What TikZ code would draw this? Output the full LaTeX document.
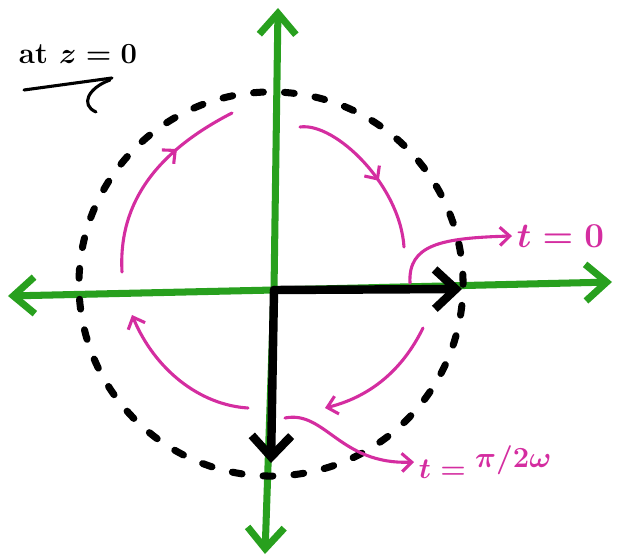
\documentclass[tikz,border=0pt]{standalone}
\usetikzlibrary{arrows.meta,decorations.markings}
\definecolor{mkgreen}{RGB}{40,160,30}
\definecolor{mkpink}{RGB}{212,45,160}
\newcommand{\penfont}{\fontsize{24}{28}\selectfont\mathversion{bold}}
\begin{document}
\begin{tikzpicture}[
    x=0.025cm, y=-0.025cm,
    axis/.style={mkgreen, line width=5pt, -{Straight Barb[length=15pt,width=26pt]}, line cap=round},
    vec/.style={black, line width=6pt, -{Straight Barb[length=15pt,width=28pt]}, line cap=round},
    orbit/.style={black, line width=5pt, dash pattern=on 7pt off 15pt, line cap=round},
    spin/.style={mkpink, line width=2.2pt, line cap=round},
    tipend/.style={-{Straight Barb[length=7pt,width=13pt]}},
    midarrow/.style={postaction={decorate}, decoration={markings, mark=at position #1 with {\arrow{Straight Barb[length=7pt,width=13pt]}}}},
    lbl/.style={mkpink, font=\penfont, anchor=west}
]
    \useasboundingbox (0,0) rectangle (617,558);

    % axes and origin
    \coordinate (O) at (274,290);
    \coordinate (xl) at (8,296);
    \coordinate (xr) at (612,282);
    \coordinate (yt) at (278,8);
    \coordinate (yb) at (265,554);
    \draw [axis] (O) -- (xr);
    \draw [axis] (O) -- (xl);
    \draw [axis] (O) -- (yt);
    \draw [axis] (O) -- (yb);

    % dashed circle
    \draw [orbit] (271,284) circle [radius=4.8cm];

    % field vectors
    \coordinate (vx) at (462,289);
    \coordinate (vy) at (271,463);
    \draw [vec] (O) -- (vx);
    \draw [vec] (O) -- (vy);

    % rotation arrows
    \draw [spin, midarrow=0.68] (122,272) .. controls (118,200) and (160,150) .. (232,113);
    \draw [spin, midarrow=0.58] (300,127) .. controls (335,122) and (400,185) .. (404,247);
    \draw [spin, tipend] (423,328) .. controls (400,375) and (365,398) .. (325,408);
    \draw [spin, tipend] (248,408) .. controls (200,405) and (155,370) .. (132,315);

    % labels
    \node (tzero) [lbl] at (512,236) {$t=0$};
    \node (tquarter) [lbl, font=\penfont\fontsize{22}{26}\selectfont] at (414,462) {$t=\raisebox{0.8ex}{$\pi/2\omega$}$};
    \coordinate (px) at (410,283);
    \coordinate (py) at (285,418);
    \draw [spin, tipend] (px) .. controls (408,245) and (440,238) .. (tzero.west);
    \draw [spin, tipend] (py) .. controls (325,410) and (340,465) .. (tquarter.west);

    % note
    \node (note) [font=\penfont\fontsize{21}{25}\selectfont\bfseries] at (78,54) {at $z=0$};
    \draw [line width=2.2pt, line cap=round] (24,90) -- (112,78);
    \draw [line width=2.2pt, line cap=round] (110,80) .. controls (88,88) and (80,105) .. (96,112);
\end{tikzpicture}
\end{document}
